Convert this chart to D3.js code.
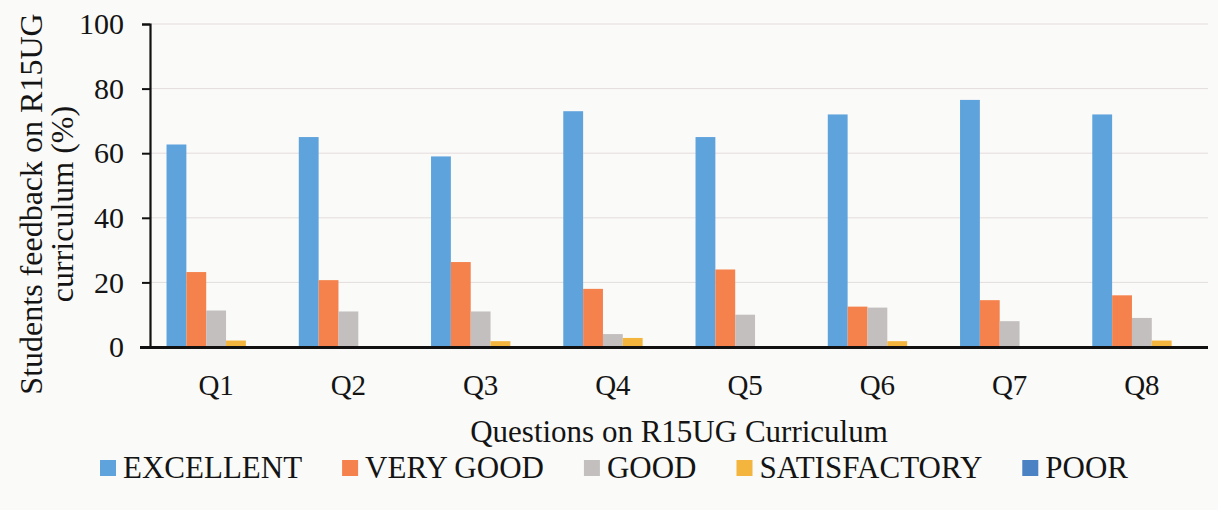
<!DOCTYPE html>
<html>
<head>
<meta charset="utf-8">
<script src="https://cdn.jsdelivr.net/npm/d3@7"></script>
<style>
  html, body { margin: 0; padding: 0; background: #fafaf8; }
  svg { display: block; }
  text { font-family: "Liberation Serif", "Times New Roman", serif; fill: #141414; }
</style>
</head>
<body>
<svg id="chart" width="1218" height="510"></svg>
<script>
// ---- data ----
const categories = ["Q1", "Q2", "Q3", "Q4", "Q5", "Q6", "Q7", "Q8"];
const seriesNames = ["EXCELLENT", "VERY GOOD", "GOOD", "SATISFACTORY", "POOR"];
const excellent    = [62.7, 65.0, 59.0, 73.0, 65.0, 72.0, 76.5, 72.0];
const veryGood     = [23.2, 20.7, 26.3, 18.0, 24.0, 12.5, 14.5, 16.0];
const good         = [11.3, 11.0, 11.0, 4.0, 10.0, 12.2, 8.0, 9.0];
const satisfactory = [2.0, 0, 1.8, 2.8, 0, 1.8, 0, 2.0];
const poor         = [0, 0, 0, 0, 0, 0, 0, 0];
const yTicks = [0, 20, 40, 60, 80, 100];
const xTitle = "Questions on R15UG Curriculum";
const yTitleLines = ["Students feedback on R15UG", "curriculum (%)"];

const seriesValues = [excellent, veryGood, good, satisfactory, poor];
const colors = ["#5fa3dd", "#f5824c", "#c3bfbe", "#f3b53d", "#4a82c4"];

// ---- layout ----
const svg = d3.select("#chart");
const plot = { left: 150, right: 1208, top: 24, bottom: 347 };

const x = d3.scaleBand().domain(categories)
  .range([plot.left, plot.right]).paddingInner(0.25).paddingOuter(0.125);
const xs = d3.scaleBand().domain(seriesNames).range([0, x.bandwidth()]);
const y = d3.scaleLinear().domain([0, 100]).range([plot.bottom, plot.top]);

// gridlines
svg.append("g").selectAll("line").data(yTicks.filter(d => d > 0)).join("line")
  .attr("x1", plot.left).attr("x2", plot.right)
  .attr("y1", d => y(d)).attr("y2", d => y(d))
  .attr("stroke", "#e4dcdc").attr("stroke-width", 1);

// bars
const groups = svg.append("g").selectAll("g").data(categories).join("g")
  .attr("transform", d => `translate(${x(d)},0)`);
groups.selectAll("rect")
  .data((c, i) => seriesNames.map((s, k) => ({ s, k, v: seriesValues[k][i] })))
  .join("rect")
  .attr("x", d => xs(d.s))
  .attr("width", xs.bandwidth())
  .attr("y", d => y(d.v))
  .attr("height", d => y(0) - y(d.v))
  .attr("fill", d => colors[d.k]);

// y axis
const yAxis = svg.append("g").attr("transform", `translate(${plot.left},0)`)
  .call(d3.axisLeft(y).tickValues(yTicks).tickSize(8).tickPadding(18));
yAxis.select(".domain").attr("stroke", "#111").attr("stroke-width", 2.2);
yAxis.selectAll(".tick line").attr("stroke", "#111").attr("stroke-width", 2);
yAxis.selectAll(".tick text").style("font-size", "30px")
  .style("font-family", "'Liberation Serif', serif").attr("fill", "#141414");

// x axis
const xAxis = svg.append("g").attr("transform", `translate(0,${plot.bottom})`)
  .call(d3.axisBottom(x).tickSize(0).tickPadding(27));
xAxis.select(".domain").remove();
xAxis.selectAll(".tick text").style("font-size", "29px")
  .style("font-family", "'Liberation Serif', serif").attr("fill", "#141414");
svg.append("line").attr("x1", 140).attr("x2", plot.right)
  .attr("y1", y(0) + 0.5).attr("y2", y(0) + 0.5)
  .attr("stroke", "#111").attr("stroke-width", 3);

// axis titles
svg.append("text").attr("x", (plot.left + plot.right) / 2).attr("y", 442)
  .attr("text-anchor", "middle").style("font-size", "31px").text(xTitle);

const yt = svg.append("text").attr("transform", "translate(0,204) rotate(-90)")
  .attr("text-anchor", "middle").style("font-size", "32px");
yt.selectAll("tspan").data(yTitleLines).join("tspan")
  .attr("x", 0).attr("y", (d, i) => 42 + i * 31).text(d => d);

// legend
const legend = svg.append("g");
const items = legend.selectAll("g").data(seriesNames).join("g");
items.append("rect").attr("width", 16).attr("height", 16).attr("y", -18)
  .attr("fill", (d, i) => colors[i]);
items.append("text").attr("x", 23).attr("y", 0).style("font-size", "31px").text(d => d);
let cx = 0;
const gap = 40;
items.each(function () {
  const w = 23 + d3.select(this).select("text").node().getComputedTextLength();
  d3.select(this).attr("transform", `translate(${cx},478)`);
  cx += w + gap;
});
const totalW = cx - gap;
legend.attr("transform", `translate(${(103 + 1125) / 2 - totalW / 2},0)`);
</script>
</body>
</html>
